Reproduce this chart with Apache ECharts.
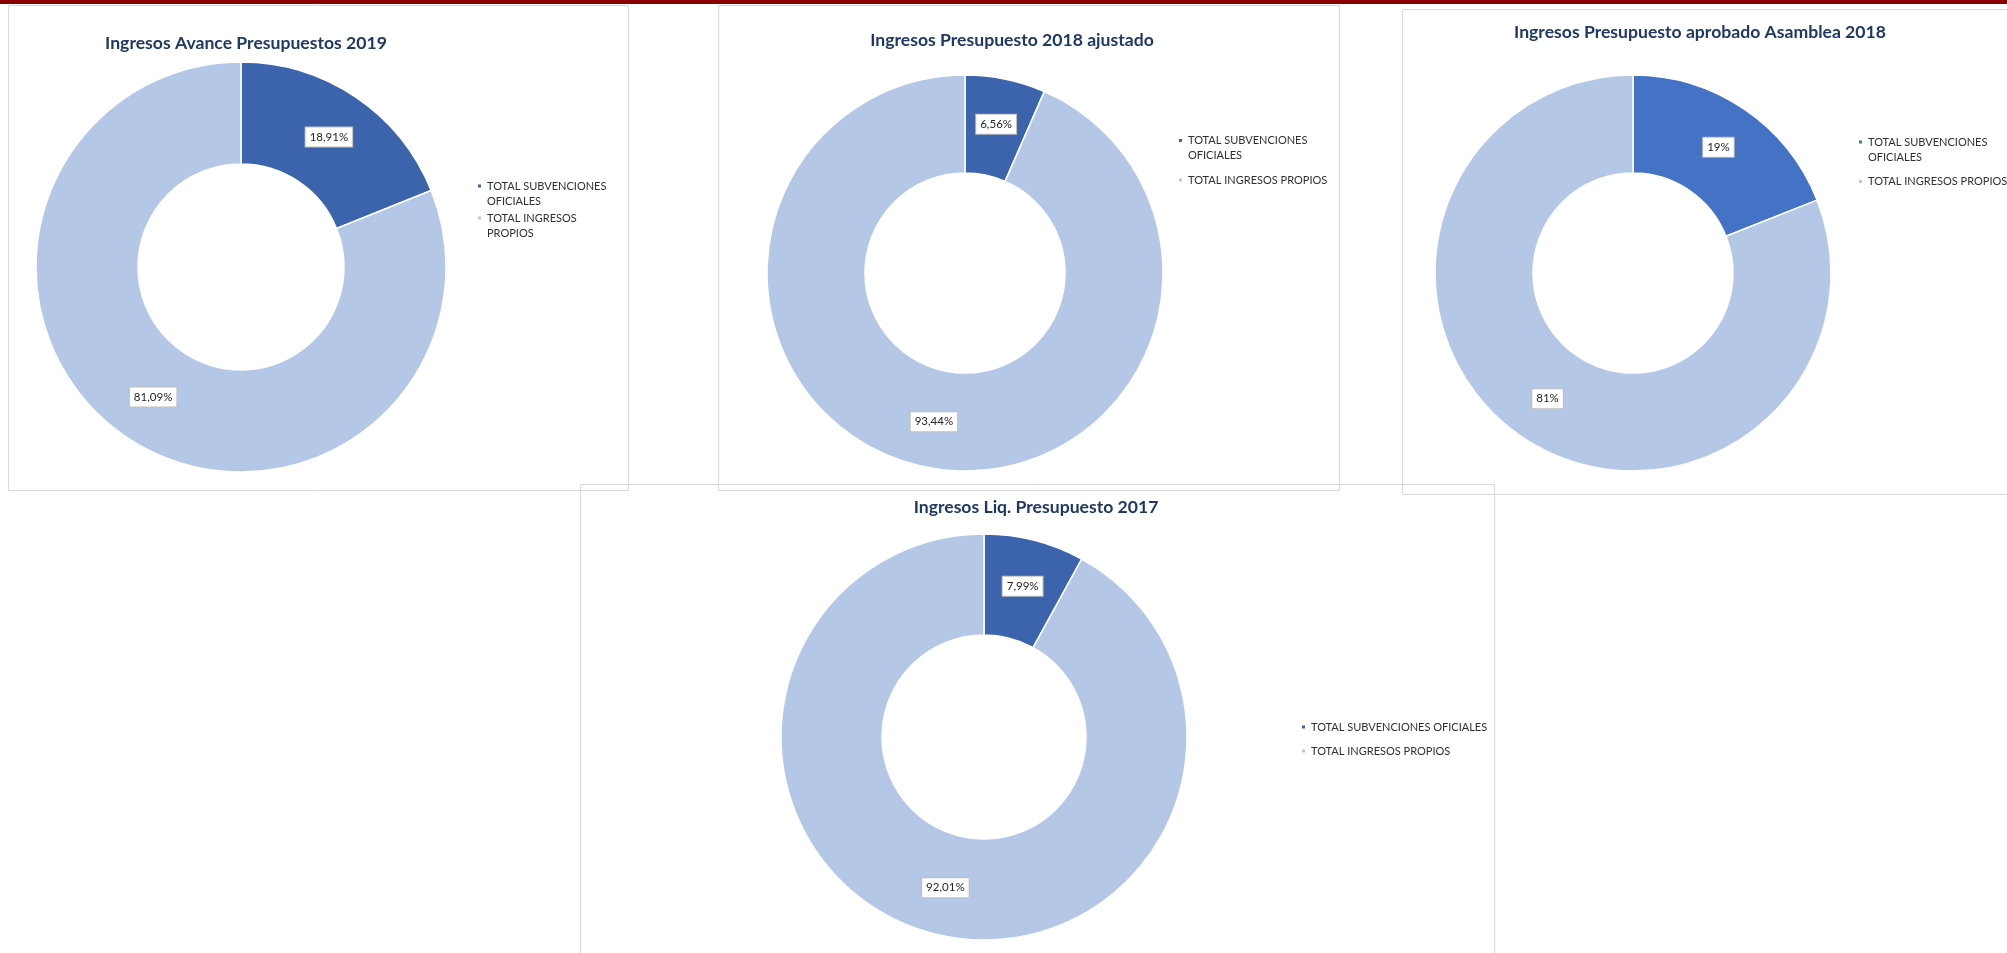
<!DOCTYPE html>
<html>
<head>
<meta charset="utf-8">
<script src="https://cdn.jsdelivr.net/npm/echarts@6/dist/echarts.min.js"></script>
<style>
    html, body { margin: 0; padding: 0; background: #fff; }
    #main { width: 2007px; height: 953px; }
</style>
</head>
<body>
<div id="main"></div>
<script>
// datos (porcentajes)
var categories = ['TOTAL SUBVENCIONES OFICIALES', 'TOTAL INGRESOS PROPIOS'];
var avance2019 = [18.91, 81.09];
var ajustado2018 = [6.56, 93.44];
var asamblea2018 = [19, 81];
var liq2017 = [7.99, 92.01];
var titles = [
    'Ingresos Avance Presupuestos 2019',
    'Ingresos Presupuesto 2018 ajustado',
    'Ingresos Presupuesto aprobado Asamblea 2018',
    'Ingresos Liq. Presupuesto 2017'
];

var FONT = 'Lato';
var darkBlue = '#3C64AD';
var midBlue = '#4472C4';
var lightBlue = '#B4C7E7';

// iconos de leyenda: cuadrado alineado con la primera linea / centrado
var iconTop = 'path://M0,0 M5,30 M0,5 H5 V10 H0 Z';
var iconMid = 'path://M0,0 M5,30 M0,12.5 H5 V17.5 H0 Z';

var chart = echarts.init(document.getElementById('main'));

function fmtPct(decimals) {
    return function (p) {
        return p.value.toFixed(decimals).replace('.', ',') + '%';
    };
}

function donut(values, center, radius, colors, decimals) {
    return {
        type: 'pie',
        center: center,
        radius: radius,
        startAngle: 90,
        clockwise: true,
        silent: true,
        animation: false,
        avoidLabelOverlap: false,
        itemStyle: {borderColor: '#fff', borderWidth: 1.5},
        label: {
            show: true,
            position: 'inside',
            formatter: fmtPct(decimals),
            color: '#262626',
            fontFamily: FONT,
            fontSize: 11.5,
            backgroundColor: '#fff',
            borderColor: '#BFBFBF',
            borderWidth: 1,
            padding: [4, 4, 3, 4]
        },
        labelLine: {show: false},
        data: categories.map(function (c, i) {
            return {name: c, value: values[i], itemStyle: {color: colors[i]}};
        })
    };
}

function title(text, x, y) {
    return {
        text: text,
        left: x,
        top: y,
        textAlign: 'center',
        padding: 0,
        textStyle: {color: '#1F3864', fontFamily: FONT, fontWeight: 'bold', fontSize: 17.6}
    };
}

function legend(x, y, colors, icons, wraps, gap, itemH) {
    return {
        orient: 'vertical',
        left: x,
        top: y,
        padding: 0,
        itemGap: gap,
        itemWidth: 5,
        itemHeight: itemH,
        selectedMode: false,
        textStyle: {color: '#303030', fontFamily: FONT, fontSize: 11, lineHeight: 15},
        formatter: function (name) {
            return wraps[name] || name;
        },
        data: categories.map(function (c, i) {
            return {name: c, icon: icons[i], itemStyle: {color: colors[i]}};
        })
    };
}

var wrap1 = {
    'TOTAL SUBVENCIONES OFICIALES': 'TOTAL SUBVENCIONES\nOFICIALES',
    'TOTAL INGRESOS PROPIOS': 'TOTAL INGRESOS\nPROPIOS'
};
var wrap2 = {
    'TOTAL SUBVENCIONES OFICIALES': 'TOTAL SUBVENCIONES\nOFICIALES'
};

function box(x1, y1, x2, y2) {
    return {
        type: 'rect',
        silent: true,
        shape: {x: x1 + 0.5, y: y1 + 0.5, width: x2 - x1, height: y2 - y1},
        style: {fill: 'none', stroke: '#D9D9D9', lineWidth: 1}
    };
}

var option = {
    backgroundColor: '#fff',
    animation: false,
    title: [
        title(titles[0], 246, 34),
        title(titles[1], 1012, 31),
        title(titles[2], 1700, 23),
        title(titles[3], 1036, 498)
    ],
    legend: [
        legend(476, 177.5, [darkBlue, lightBlue], [iconTop, iconTop], wrap1, 0, 30),
        legend(1177, 132, [darkBlue, lightBlue], [iconTop, iconMid], wrap2, 0, 30),
        legend(1857, 133.5, [midBlue, lightBlue], [iconTop, iconMid], wrap2, 0, 30),
        legend(1300, 719.5, [darkBlue, lightBlue], ['rect', 'rect'], {}, 9, 5)
    ],
    graphic: [
        {type: 'rect', silent: true, shape: {x: 0, y: 0, width: 2007, height: 4}, style: {fill: '#8B0000'}},
        box(8, 5, 628, 490),
        box(718, 5, 1339, 490),
        box(1402, 9, 2010, 494),
        box(580, 484, 1494, 960)
    ],
    series: [
        donut(avance2019, [241, 267], [103, 205], [darkBlue, lightBlue], 2),
        donut(ajustado2018, [965, 273], [100, 198], [darkBlue, lightBlue], 2),
        donut(asamblea2018, [1633, 273], [100, 198], [midBlue, lightBlue], 0),
        donut(liq2017, [984, 737], [102, 203], [darkBlue, lightBlue], 2)
    ]
};

chart.setOption(option);
</script>
</body>
</html>
